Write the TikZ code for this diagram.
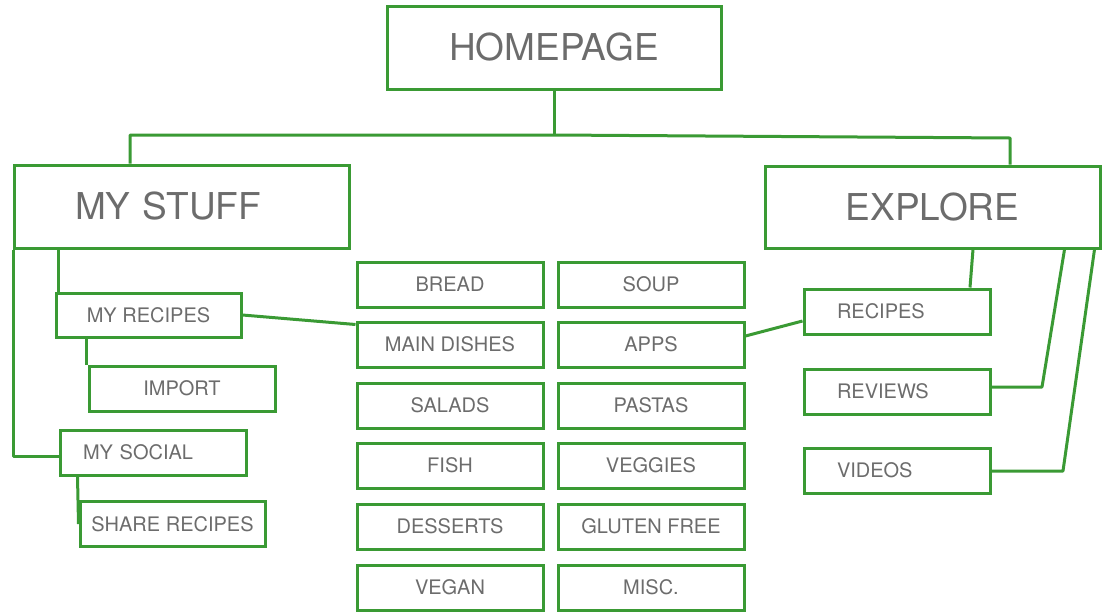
\documentclass[tikz,border=0pt]{standalone}
\usepackage{fontspec}
\setmainfont{TeX Gyre Heros}
\definecolor{boxgreen}{RGB}{58,154,52}
\definecolor{txtgray}{RGB}{108,108,108}
\begin{document}
\begin{tikzpicture}[x=1pt,y=-1pt,
  box/.style={draw=boxgreen, line width=3pt, rectangle, inner sep=0pt, text=txtgray},
  bigbox/.style={box, minimum width=335pt, minimum height=83pt, font=\fontsize{37}{40}\selectfont},
  smallbox/.style={box, minimum width=186pt, minimum height=45pt, font=\fontsize{20}{24}\selectfont},
  link/.style={draw=boxgreen, line width=3pt, line join=round}]
\useasboundingbox (0,0) rectangle (1106,611);

% top level
\node[bigbox, minimum width=334pt] (home) at (554,47.5) {HOMEPAGE};
\node[bigbox, text width=213pt, inner xsep=61pt, align=left] (mystuff) at (181.5,206.5) {MY STUFF};
\node[bigbox, minimum height=82pt] (explore) at (932.5,207) {EXPLORE};

% left branch
\node[smallbox, minimum width=185pt, minimum height=44pt] (myrecipes) at (148.5,315) {MY RECIPES};
\node[smallbox] (import) at (182,388.5) {IMPORT};
\node[smallbox, text width=140pt, inner xsep=23pt, align=left] (mysocial) at (153,452.5) {MY SOCIAL};
\node[smallbox, minimum width=185pt] (share) at (172.5,524) {SHARE RECIPES};

% categories grid
\node[smallbox] (bread)    at (450,284.5) {BREAD};
\node[smallbox] (main)     at (450,344.5) {MAIN DISHES};
\node[smallbox] (salads)   at (450,405.5) {SALADS};
\node[smallbox] (fish)     at (450,465.5) {FISH};
\node[smallbox] (desserts) at (450,526.5) {DESSERTS};
\node[smallbox] (vegan)    at (450,587.5) {VEGAN};
\node[smallbox] (soup)     at (651,284.5) {SOUP};
\node[smallbox] (apps)     at (651,344.5) {APPS};
\node[smallbox] (pastas)   at (651,405.5) {PASTAS};
\node[smallbox] (veggies)  at (651,465.5) {VEGGIES};
\node[smallbox] (gluten)   at (651,526.5) {GLUTEN FREE};
\node[smallbox] (misc)     at (651,587.5) {MISC.};

% right branch
\node[smallbox, text width=120pt, inner xsep=33pt, align=left] (recipes) at (897,311.5) {RECIPES};
\node[smallbox, text width=120pt, inner xsep=33pt, align=left] (reviews) at (897,391.5) {REVIEWS};
\node[smallbox, text width=120pt, inner xsep=33pt, align=left] (videos)  at (897,470.5) {VIDEOS};

% junction points
\coordinate (hj) at (554,135);
\coordinate (hl) at (130,135);
\coordinate (hr) at (1010,138);
\coordinate (msk) at (13,456);
\coordinate (rvk) at (1042,387);
\coordinate (vdk) at (1063,471);

% connectors
\draw[link] (home.south) -- (hj);
\draw[link] (hl |- mystuff.north) -- (hl) -- (hj) -- (hr) -- (hr |- explore.north);
\draw[link] (msk |- mystuff.south) -- (msk) -- (mysocial.west |- msk);
\draw[link] ([xshift=4pt]myrecipes.north west |- mystuff.south) -- ([xshift=4pt]myrecipes.north west);
\draw[link] ([xshift=-1pt]import.north west |- myrecipes.south) -- ([xshift=-1pt]import.north west);
\draw[link] ([xshift=-1pt]share.west |- mysocial.south) -- (share.west);
\draw[link] (myrecipes.east) -- ([yshift=20pt]main.west);
\draw[link] ([yshift=8.5pt]apps.east) -- ([yshift=-9.5pt]recipes.west);
\draw[link] ([xshift=40.5pt]explore.south) -- ([xshift=73pt]recipes.north);
\draw[link] ([xshift=-37pt]explore.south east) -- (rvk) -- (reviews.east |- rvk);
\draw[link] ([xshift=-7pt]explore.south east) -- (vdk) -- (videos.east |- vdk);
\end{tikzpicture}
\end{document}
